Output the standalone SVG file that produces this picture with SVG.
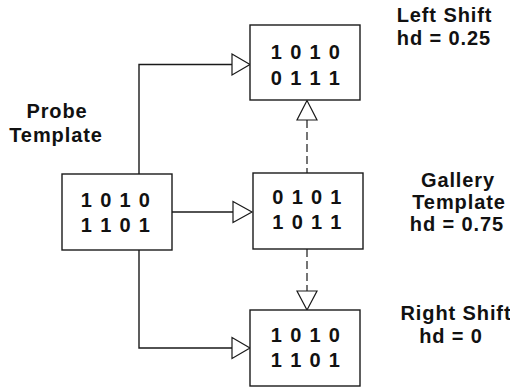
<svg xmlns="http://www.w3.org/2000/svg" width="510" height="389" viewBox="0 0 510 389">
<style>
.box{fill:#fff;stroke:#1a1a1a;stroke-width:1.4}
.ln{fill:none;stroke:#1a1a1a;stroke-width:1.4}
.dash{fill:none;stroke:#1a1a1a;stroke-width:1.2;stroke-dasharray:8,4}
.ah{fill:#fff;stroke:#1a1a1a;stroke-width:1.2}
text{font-family:"Liberation Sans",Arial,sans-serif;font-weight:bold;fill:#111;text-anchor:middle}
.num{font-size:20px;letter-spacing:1.3px}
.lbl{font-size:20px;letter-spacing:0.9px}
</style>
<rect width="510" height="389" fill="#fff"/>
<g id="connectors">
<polyline class="ln" points="139,174 139,64.5 232,64.5"/>
<polyline class="ln" points="139,250 139,348 232,348"/>
<line class="ln" x1="172" y1="212" x2="233" y2="212"/>
<line class="dash" x1="307" y1="120" x2="307" y2="173"/>
<line class="dash" x1="307" y1="249" x2="307" y2="291"/>
<polygon class="ah" points="232,54 250,64.5 232,75"/>
<polygon class="ah" points="233,201.5 252,212 233,222.5"/>
<polygon class="ah" points="232,337.5 250,348 232,358.5"/>
<polygon class="ah" points="307,100.5 297,120 317,120"/>
<polygon class="ah" points="297,291 317,291 307,310"/>
</g>
<g id="left-shift">
<rect class="box" x="250" y="25" width="110" height="75"/>
<text class="num" x="306" y="59">1 0 1 0</text>
<text class="num" x="306" y="85">0 1 1 1</text>
</g>
<g id="probe">
<rect class="box" x="62" y="174" width="110" height="76"/>
<text class="num" x="116" y="207">1 0 1 0</text>
<text class="num" x="116" y="232">1 1 0 1</text>
</g>
<g id="gallery">
<rect class="box" x="253" y="173" width="110" height="76"/>
<text class="num" x="307.5" y="204">0 1 0 1</text>
<text class="num" x="307.5" y="229">1 0 1 1</text>
</g>
<g id="right-shift">
<rect class="box" x="250" y="310" width="110" height="76"/>
<text class="num" x="306" y="342">1 0 1 0</text>
<text class="num" x="306" y="367">1 1 0 1</text>
</g>
<g id="labels">
<text class="lbl" x="444.5" y="22">Left Shift</text>
<text class="lbl" x="444" y="45">hd = 0.25</text>
<text class="lbl" x="57" y="118">Probe</text>
<text class="lbl" x="56" y="142">Template</text>
<text class="lbl" x="458" y="187">Gallery</text>
<text class="lbl" x="459" y="209">Template</text>
<text class="lbl" x="457" y="231">hd = 0.75</text>
<text class="lbl" x="456" y="320">Right Shift</text>
<text class="lbl" x="451" y="343">hd = 0</text>
</g>
</svg>
